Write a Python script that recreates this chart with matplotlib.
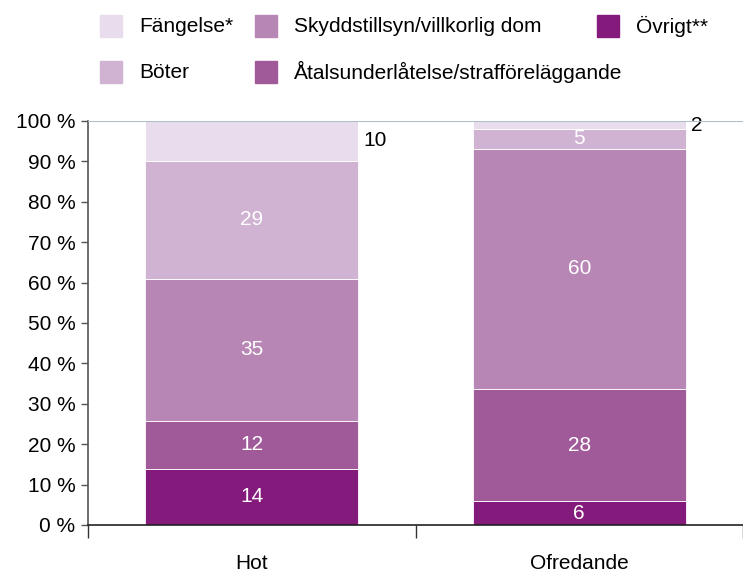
import matplotlib.pyplot as plt
from matplotlib.patches import Rectangle
import numpy as np

plt.rcParams['font.family'] = ['Liberation Sans', 'DejaVu Sans']

# Data (andel i procent)
categories = ['Hot', 'Ofredande']
series = ['Övrigt**', 'Åtalsunderlåtelse/strafföreläggande',
          'Skyddstillsyn/villkorlig dom', 'Böter', 'Fängelse*']
values = {
    'Övrigt**': [13.9, 5.9],
    'Åtalsunderlåtelse/strafföreläggande': [11.9, 27.8],
    'Skyddstillsyn/villkorlig dom': [35.1, 59.4],
    'Böter': [29.2, 4.9],
    'Fängelse*': [9.9, 2.0],
}
labels = {
    'Övrigt**': ['14', '6'],
    'Åtalsunderlåtelse/strafföreläggande': ['12', '28'],
    'Skyddstillsyn/villkorlig dom': ['35', '60'],
    'Böter': ['29', '5'],
    'Fängelse*': ['10', '2'],
}
colors = {
    'Övrigt**': '#841b7c',
    'Åtalsunderlåtelse/strafföreläggande': '#a05a99',
    'Skyddstillsyn/villkorlig dom': '#b786b5',
    'Böter': '#d0b2d3',
    'Fängelse*': '#e9dcec',
}

W, H = 743, 573
fs = 15
fig = plt.figure(figsize=(W / 100, H / 100), dpi=100)
ax = fig.add_axes([88 / W, 48 / H, (W - 88) / W, 404 / H])

x = np.arange(len(categories))
width = 0.65
bottom = np.zeros(len(categories))
for s in series:
    v = np.array(values[s])
    ax.bar(x, v, width, bottom=bottom, color=colors[s],
           edgecolor='white', linewidth=0.6, zorder=2)
    for i in range(len(categories)):
        mid = bottom[i] + v[i] / 2
        if s == 'Fängelse*':
            ax.text(x[i] + width / 2 + 0.015, mid, labels[s][i], ha='left',
                    va='center', fontsize=fs, color='black')
        else:
            ax.text(x[i], mid, labels[s][i], ha='center', va='center',
                    fontsize=fs, color='white')
    bottom += v

ax.set_xlim(-0.5, 1.475)
ax.set_ylim(0, 100)
ax.set_yticks(np.arange(0, 101, 10))
ax.set_yticklabels([f'{t} %' for t in range(0, 101, 10)], fontsize=fs)
ax.set_xticks(x)
ax.set_xticklabels(categories, fontsize=fs)
ax.set_xticks([-0.5, 0.5, 1.5], minor=True)
ax.tick_params(axis='x', which='major', length=0, pad=21)
ax.tick_params(axis='x', which='minor', length=9, width=1, color='#333333')
ax.tick_params(axis='y', length=5, width=1, color='#555555', pad=4)

for side in ['top', 'right']:
    ax.spines[side].set_visible(False)
ax.spines['left'].set_color('#555555')
ax.spines['left'].set_linewidth(1.2)
ax.spines['bottom'].set_color('#222222')
ax.spines['bottom'].set_linewidth(1.2)
ax.axhline(100, color='#b0bfcc', linewidth=1.5, zorder=3)

# legend laid out by hand, as in the reference (two rows, uneven columns)
legend_items = [('Fängelse*', 100, 26), ('Skyddstillsyn/villkorlig dom', 255, 26),
                ('Övrigt**', 597, 26), ('Böter', 100, 72),
                ('Åtalsunderlåtelse/strafföreläggande', 255, 72)]
for name, px, py in legend_items:
    fig.patches.append(Rectangle((px / W, 1 - (py + 11) / H), 22 / W, 22 / H,
                                 transform=fig.transFigure, color=colors[name]))
    fig.text((px + 39) / W, 1 - py / H, name, fontsize=fs, ha='left',
             va='center')

fig.savefig('out.png', dpi=100)
